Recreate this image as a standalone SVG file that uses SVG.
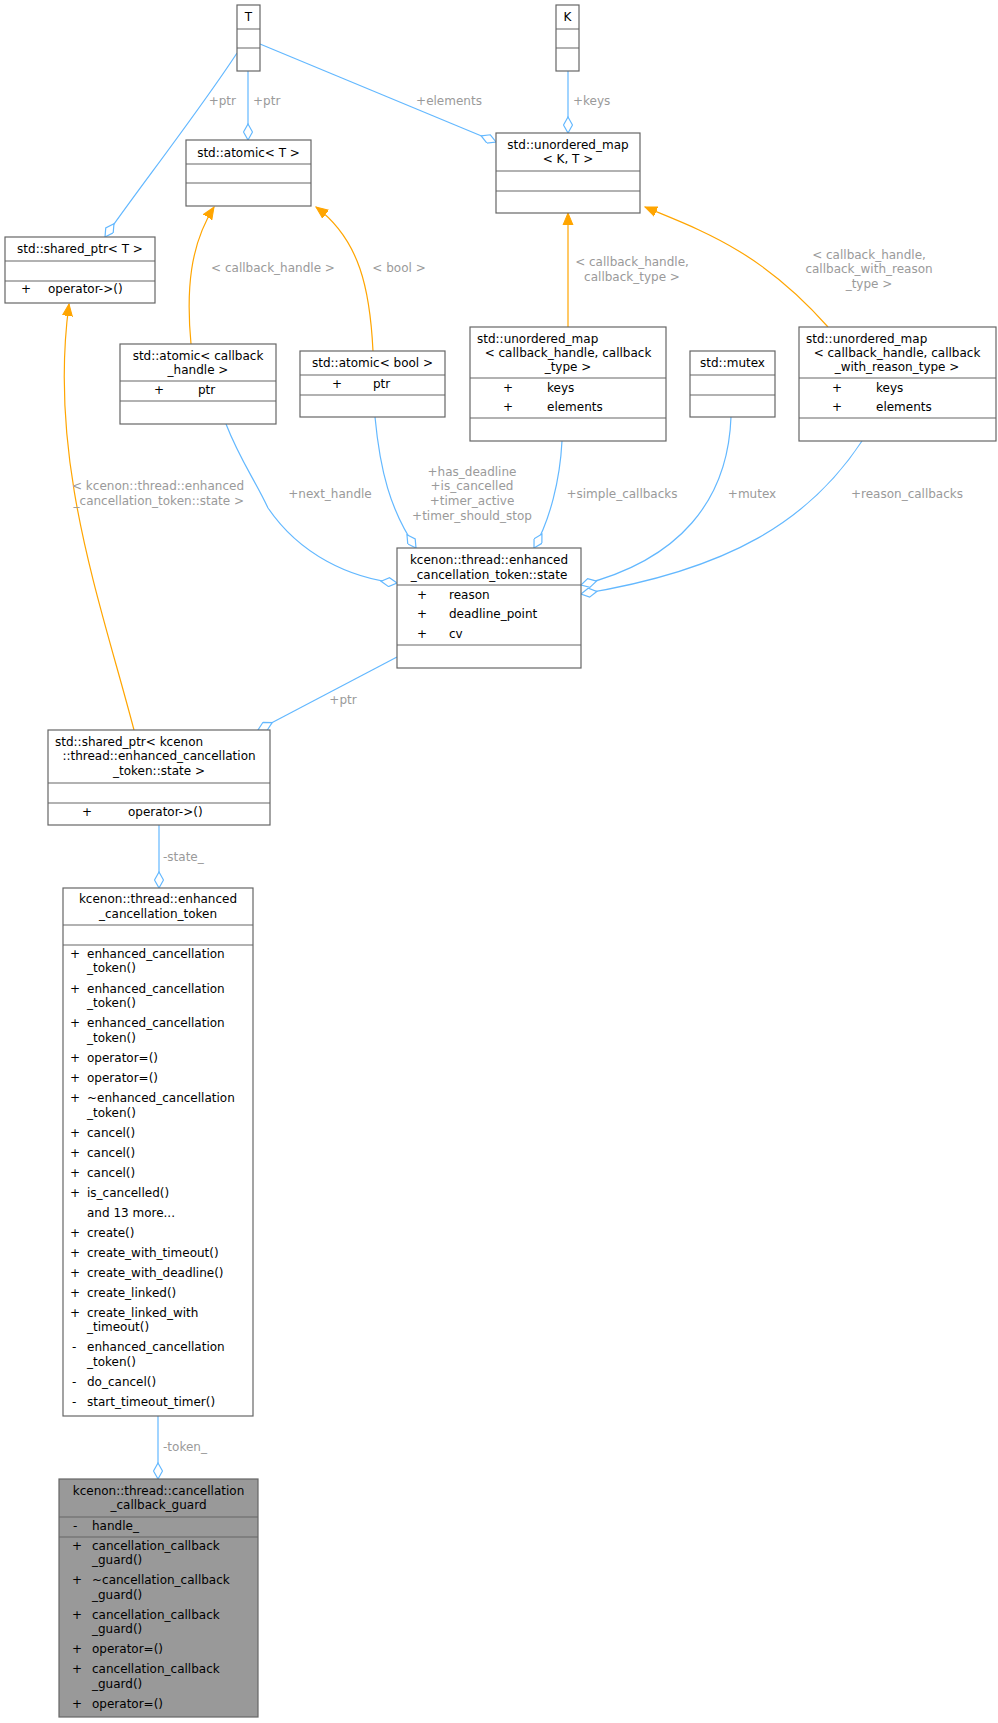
<svg xmlns="http://www.w3.org/2000/svg" width="998" height="1723" viewBox="0 0 998 1723">
<style>
text{font-family:"DejaVu Sans","Liberation Sans",sans-serif;font-size:12px;fill:#000}
.c{text-anchor:middle}
.l{fill:#9a9a9a}
.b{fill:#fff;stroke:#666;stroke-width:1.2}
.g{fill:#999;stroke:#666;stroke-width:1.2}
.s{stroke:#666;stroke-width:1.2}
.e{fill:none;stroke:#63b8ff;stroke-width:1.2;marker-end:url(#d)}
.o{fill:none;stroke:orange;stroke-width:1.2;marker-end:url(#a)}
</style>
<defs>
<marker id="d" markerUnits="userSpaceOnUse" viewBox="-1 -5 18 10" refX="16" refY="0" markerWidth="18" markerHeight="10" orient="auto"><path d="M0,0 L8,-4.5 L16,0 L8,4.5 z" fill="#fff" stroke="#63b8ff" stroke-width="1.2"/></marker>
<marker id="a" markerUnits="userSpaceOnUse" viewBox="0 -6 13 12" refX="12" refY="0" markerWidth="13" markerHeight="12" orient="auto"><path d="M0,-5 L12,0 L0,5 z" fill="orange" stroke="orange"/></marker>
</defs>
<g id="edges">
<path class="e" d="M237,53 C200,110 130,200 105,237"/><text class="l" x="236" y="105" text-anchor="end">+ptr</text>
<path class="e" d="M248,71 L248,140"/><text class="l" x="253" y="105">+ptr</text>
<path class="e" d="M260,44 L496,142"/><text class="l c" x="449" y="105">+elements</text>
<path class="e" d="M568,71 L568,133"/><text class="l" x="573" y="105">+keys</text>
<path class="o" d="M191,344 C186,290 190,245 214,207"/><text class="l c" x="273" y="272">&lt; callback_handle &gt;</text>
<path class="o" d="M373,351 C370,290 360,240 316,207"/><text class="l c" x="399" y="272">&lt; bool &gt;</text>
<path class="o" d="M568,327 L568,213"/><text class="l c" x="632" y="266">&lt; callback_handle,</text><text class="l c" x="632" y="281">callback_type &gt;</text>
<path class="o" d="M828,327 C760,250 700,230 645,207"/><text class="l c" x="869" y="259">&lt; callback_handle,</text><text class="l c" x="869" y="273">callback_with_reason</text><text class="l c" x="869" y="288">_type &gt;</text>
<path class="o" d="M134,730 C100,600 48,460 69,304"/><text class="l" x="244" y="490" text-anchor="end">&lt; kcenon::thread::enhanced</text><text class="l" x="244" y="505" text-anchor="end">_cancellation_token::state &gt;</text>
<path class="e" d="M226,424 C240,460 255,480 268,508 C300,555 350,578 397,583"/><text class="l c" x="330" y="498">+next_handle</text>
<path class="e" d="M375,417 C380,470 390,510 416,548"/><text class="l c" x="472" y="476">+has_deadline</text><text class="l c" x="472" y="490">+is_cancelled</text><text class="l c" x="472" y="505">+timer_active</text><text class="l c" x="472" y="520">+timer_should_stop</text>
<path class="e" d="M562,441 C560,480 550,520 534,548"/><text class="l c" x="622" y="498">+simple_callbacks</text>
<path class="e" d="M731,417 C728,500 680,560 581,585"/><text class="l c" x="752" y="498">+mutex</text>
<path class="e" d="M862,441 C810,520 730,570 581,594"/><text class="l c" x="907" y="498">+reason_callbacks</text>
<path class="e" d="M397,657 L258,730"/><text class="l c" x="343" y="704">+ptr</text>
<path class="e" d="M159,825 L159,888"/><text class="l" x="163" y="861">-state_</text>
<path class="e" d="M158,1416 L158,1479"/><text class="l" x="163" y="1451">-token_</text>
</g>
<g id="T"><rect class="b" x="237" y="5" width="23" height="66"/><path class="s" d="M237,29H260M237,48H260"/><text class="c" x="248.5" y="21">T</text></g>
<g id="K"><rect class="b" x="556" y="5" width="23" height="66"/><path class="s" d="M556,29H579M556,48H579"/><text class="c" x="567.5" y="21">K</text></g>
<g id="atomicT"><rect class="b" x="186" y="140" width="125" height="66"/><path class="s" d="M186,164H311M186,183H311"/><text class="c" x="248.5" y="157">std::atomic&lt; T &gt;</text></g>
<g id="umapKT"><rect class="b" x="496" y="133" width="144" height="80"/><path class="s" d="M496,171H640M496,191H640"/><text class="c" x="568" y="149">std::unordered_map</text><text class="c" x="568" y="163">&lt; K, T &gt;</text></g>
<g id="sharedT"><rect class="b" x="5" y="237" width="150" height="66"/><path class="s" d="M5,261H155M5,281H155"/><text class="c" x="80" y="253">std::shared_ptr&lt; T &gt;</text><text x="21" y="293">+</text><text x="48" y="293">operator-&gt;()</text></g>
<g id="atomicCb"><rect class="b" x="120" y="344" width="156" height="80"/><path class="s" d="M120,381H276M120,401H276"/><text class="c" x="198" y="360">std::atomic&lt; callback</text><text class="c" x="198" y="374">_handle &gt;</text><text x="154" y="394">+</text><text x="198" y="394">ptr</text></g>
<g id="atomicBool"><rect class="b" x="300" y="351" width="145" height="66"/><path class="s" d="M300,375H445M300,395H445"/><text class="c" x="372.5" y="367">std::atomic&lt; bool &gt;</text><text x="332" y="388">+</text><text x="373" y="388">ptr</text></g>
<g id="umapCb"><rect class="b" x="470" y="327" width="196" height="114"/><path class="s" d="M470,378H666M470,418H666"/><text x="477" y="343">std::unordered_map</text><text class="c" x="568" y="357">&lt; callback_handle, callback</text><text class="c" x="568" y="371">_type &gt;</text><text x="503" y="392">+</text><text x="547" y="392">keys</text><text x="503" y="411">+</text><text x="547" y="411">elements</text></g>
<g id="mutex"><rect class="b" x="690" y="351" width="85" height="66"/><path class="s" d="M690,375H775M690,395H775"/><text class="c" x="732.5" y="367">std::mutex</text></g>
<g id="umapReason"><rect class="b" x="799" y="327" width="197" height="114"/><path class="s" d="M799,378H996M799,418H996"/><text x="806" y="343">std::unordered_map</text><text class="c" x="897" y="357">&lt; callback_handle, callback</text><text class="c" x="897" y="371">_with_reason_type &gt;</text><text x="832" y="392">+</text><text x="876" y="392">keys</text><text x="832" y="411">+</text><text x="876" y="411">elements</text></g>
<g id="state"><rect class="b" x="397" y="548" width="184" height="120"/><path class="s" d="M397,585H581M397,645H581"/><text class="c" x="489" y="564">kcenon::thread::enhanced</text><text class="c" x="489" y="579">_cancellation_token::state</text><text x="417" y="599">+</text><text x="449" y="599">reason</text><text x="417" y="618">+</text><text x="449" y="618">deadline_point</text><text x="417" y="638">+</text><text x="449" y="638">cv</text></g>
<g id="sharedState"><rect class="b" x="48" y="730" width="222" height="95"/><path class="s" d="M48,783H270M48,803H270"/><text x="55" y="746">std::shared_ptr&lt; kcenon</text><text class="c" x="159" y="760">::thread::enhanced_cancellation</text><text class="c" x="159" y="775">_token::state &gt;</text><text x="82" y="816">+</text><text x="128" y="816">operator-&gt;()</text></g>
<g id="token"><rect class="b" x="63" y="888" width="190" height="528"/><path class="s" d="M63,925H253M63,945H253"/>
<text class="c" x="158" y="903">kcenon::thread::enhanced</text><text class="c" x="158" y="918">_cancellation_token</text>
<g><text x="70" y="958">+</text><text x="87" y="958">enhanced_cancellation</text><text x="87" y="972">_token()</text>
<text x="70" y="993">+</text><text x="87" y="993">enhanced_cancellation</text><text x="87" y="1007">_token()</text>
<text x="70" y="1027">+</text><text x="87" y="1027">enhanced_cancellation</text><text x="87" y="1042">_token()</text>
<text x="70" y="1062">+</text><text x="87" y="1062">operator=()</text>
<text x="70" y="1082">+</text><text x="87" y="1082">operator=()</text>
<text x="70" y="1102">+</text><text x="87" y="1102">~enhanced_cancellation</text><text x="87" y="1117">_token()</text>
<text x="70" y="1137">+</text><text x="87" y="1137">cancel()</text>
<text x="70" y="1157">+</text><text x="87" y="1157">cancel()</text>
<text x="70" y="1177">+</text><text x="87" y="1177">cancel()</text>
<text x="70" y="1197">+</text><text x="87" y="1197">is_cancelled()</text>
<text x="87" y="1217">and 13 more...</text>
<text x="70" y="1237">+</text><text x="87" y="1237">create()</text>
<text x="70" y="1257">+</text><text x="87" y="1257">create_with_timeout()</text>
<text x="70" y="1277">+</text><text x="87" y="1277">create_with_deadline()</text>
<text x="70" y="1297">+</text><text x="87" y="1297">create_linked()</text>
<text x="70" y="1317">+</text><text x="87" y="1317">create_linked_with</text><text x="87" y="1331">_timeout()</text>
<text x="72" y="1351">-</text><text x="87" y="1351">enhanced_cancellation</text><text x="87" y="1366">_token()</text>
<text x="72" y="1386">-</text><text x="87" y="1386">do_cancel()</text>
<text x="72" y="1406">-</text><text x="87" y="1406">start_timeout_timer()</text></g></g>
<g id="guard"><rect class="g" x="59" y="1479" width="199" height="238"/><path class="s" d="M59,1517H258M59,1537H258"/>
<text class="c" x="158.5" y="1495">kcenon::thread::cancellation</text><text class="c" x="158.5" y="1509">_callback_guard</text>
<text x="73" y="1530">-</text><text x="92" y="1530">handle_</text>
<text x="72" y="1550">+</text><text x="92" y="1550">cancellation_callback</text><text x="92" y="1564">_guard()</text>
<text x="72" y="1584">+</text><text x="92" y="1584">~cancellation_callback</text><text x="92" y="1599">_guard()</text>
<text x="72" y="1619">+</text><text x="92" y="1619">cancellation_callback</text><text x="92" y="1633">_guard()</text>
<text x="72" y="1653">+</text><text x="92" y="1653">operator=()</text>
<text x="72" y="1673">+</text><text x="92" y="1673">cancellation_callback</text><text x="92" y="1688">_guard()</text>
<text x="72" y="1708">+</text><text x="92" y="1708">operator=()</text></g>
</svg>
